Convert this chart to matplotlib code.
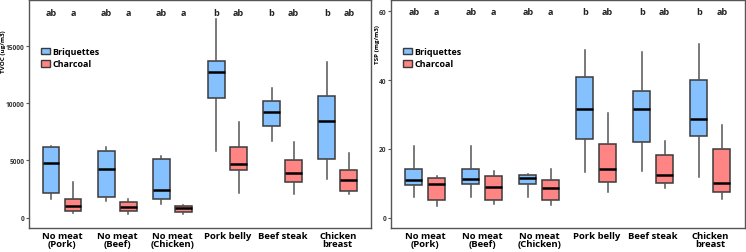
import numpy as np
import matplotlib
matplotlib.use("Agg")
import matplotlib.pyplot as plt
from matplotlib.patches import Patch

plt.rcParams['font.family'] = ['Open Sans', 'DejaVu Sans']

groups = ['No meat\n(Pork)', 'No meat\n(Beef)', 'No meat\n(Chicken)',
          'Pork belly', 'Beef steak', 'Chicken\nbreast']

# [whisker low, q1, median, q3, whisker high] per group
tvoc_briq = [[1650, 2170, 4800, 6200, 6300],
             [1420, 1820, 4250, 5850, 6140],
             [1220, 1590, 2400, 5120, 5410],
             [5790, 10450, 12700, 13700, 17370],
             [6690, 8050, 9260, 10220, 11320],
             [3390, 5100, 8480, 10600, 13580]]
tvoc_char = [[380, 610, 1040, 1590, 3100],
             [350, 550, 950, 1390, 1590],
             [350, 490, 840, 1010, 1130],
             [2170, 4200, 4690, 6170, 8340],
             [2030, 3100, 3940, 5010, 6630],
             [2030, 2370, 3300, 4140, 5680]]
tsp_briq = [[6.1, 9.5, 11.0, 14.2, 20.7],
            [6.1, 9.8, 11.3, 14.2, 20.7],
            [6.0, 9.8, 11.4, 12.3, 12.8],
            [13.4, 22.9, 31.6, 40.9, 48.6],
            [13.6, 22.0, 31.7, 36.8, 48.1],
            [11.9, 23.7, 28.6, 40.1, 50.4]]
tsp_char = [[3.4, 5.1, 9.7, 11.5, 12.1],
            [3.9, 5.1, 9.0, 12.1, 13.6],
            [3.8, 5.1, 8.5, 10.9, 14.0],
            [7.5, 10.3, 14.2, 21.3, 30.3],
            [8.7, 10.0, 12.4, 18.1, 22.3],
            [5.5, 7.5, 10.1, 19.9, 26.9]]
letters_briq = ['ab', 'ab', 'ab', 'b', 'b', 'b']
letters_char = ['a', 'a', 'a', 'ab', 'ab', 'ab']

BLUE = '#85C1FF'
RED = '#FF8585'
EDGE = '#3a3a3a'


def to_stats(rows):
    return [dict(whislo=r[0], q1=r[1], med=r[2], q3=r[3], whishi=r[4], fliers=[])
            for r in rows]


def panel(ax, briq, char, ylabel, yticks, ylim, letter_y, label_xy):
    pos = np.arange(1, len(groups) + 1)
    for data, off, col in [(briq, -0.2, BLUE), (char, 0.2, RED)]:
        ax.bxp(to_stats(data), positions=pos + off, widths=0.3, patch_artist=True,
               showcaps=False, showfliers=False,
               boxprops=dict(facecolor=col, edgecolor=EDGE, linewidth=1.1),
               medianprops=dict(color='black', linewidth=1.8),
               whiskerprops=dict(color='#555555', linewidth=1.1))
    for i in range(len(groups)):
        ax.text(pos[i] - 0.2, letter_y, letters_briq[i], ha='center', va='center',
                fontsize=6.5, fontweight='bold', color='#222222')
        ax.text(pos[i] + 0.2, letter_y, letters_char[i], ha='center', va='center',
                fontsize=6.5, fontweight='bold', color='#222222')
    ax.set_xlim(0.4, 6.6)
    ax.set_ylim(*ylim)
    ax.set_xticks(pos)
    ax.set_xticklabels(groups, fontsize=6.8, fontweight='bold', linespacing=0.95)
    ax.set_yticks(yticks)
    ax.set_yticklabels([str(t) for t in yticks], fontsize=4.8, fontweight='bold',
                       color='#333333')
    ax.tick_params(axis='x', length=0, pad=2)
    ax.tick_params(axis='y', length=2.5, color='#555555', pad=0.6)
    ax.set_ylabel(ylabel, fontsize=4.5, fontweight='bold')
    ax.yaxis.set_label_coords(*label_xy)
    for s in ax.spines.values():
        s.set_color('#555555')
        s.set_linewidth(1.0)
    handles = [Patch(facecolor=BLUE, edgecolor=EDGE, label='Briquettes'),
               Patch(facecolor=RED, edgecolor=EDGE, label='Charcoal')]
    ax.legend(handles=handles, loc='upper left', bbox_to_anchor=(0.01, 0.83),
              frameon=False, handlelength=1.0, handleheight=0.8,
              handletextpad=0.3, labelspacing=0.35, prop=dict(size=6.5, weight='bold'))


fig = plt.figure(figsize=(7.46, 2.53), dpi=100)
ax1 = fig.add_axes([0.039, 0.095, 0.458, 0.9])
ax2 = fig.add_axes([0.524, 0.095, 0.474, 0.9])

panel(ax1, tvoc_briq, tvoc_char, 'TVOC (ug/m3)', [0, 5000, 10000, 15000],
      (-900, 19000), 17950, (-0.0665, 0.78))
panel(ax2, tsp_briq, tsp_char, 'TSP (mg/m3)', [0, 20, 40, 60], (-3, 63.2), 60,
      (-0.031, 0.81))

fig.savefig('out.png', dpi=100)
